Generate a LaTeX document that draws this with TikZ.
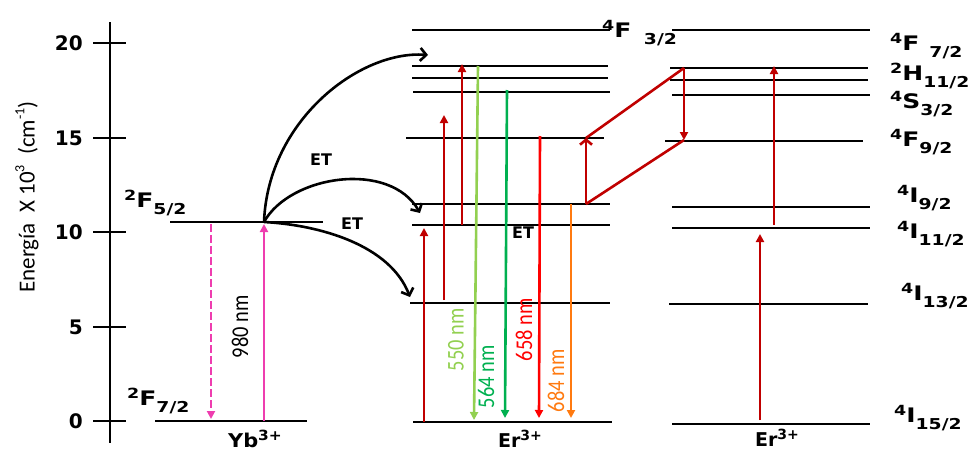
\documentclass[tikz,border=0pt]{standalone}
\usepackage{fontspec}
\setmainfont{DejaVu Sans}
\newfontfamily\calib{Carlito}
\usetikzlibrary{arrows.meta}
\definecolor{pump}{HTML}{EE3DAF}
\definecolor{ruby}{HTML}{C00000}
\definecolor{lime}{HTML}{92D050}
\definecolor{leaf}{HTML}{00B050}
\definecolor{scarlet}{HTML}{FF0000}
\definecolor{amber}{HTML}{FF7A10}
\newcommand{\up}[1]{\raisebox{.33em}{\fontsize{14}{14}\selectfont #1}}
\newcommand{\dn}[1]{\raisebox{-.38em}{\fontsize{15}{15}\selectfont #1}}
\newcommand{\trm}[3]{\scalebox{1.25}[1]{\up{#1}#2\dn{#3}}}
\newcommand{\wl}[1]{\scalebox{.85}[1]{#1}}
\tikzset{
  axis/.style ={draw=black, line width=2pt},
  lvl/.style  ={draw=black, line width=2pt},
  tick/.style ={font=\bfseries\fontsize{20}{20}\selectfont, inner sep=0pt},
  lbl/.style  ={font=\bfseries\fontsize{20}{20}\selectfont, inner sep=0pt, anchor=base west},
  ion/.style  ={font=\bfseries\fontsize{19}{19}\selectfont, inner sep=0pt, anchor=base},
  etlbl/.style={font=\bfseries\fontsize{16}{16}\selectfont, inner sep=0pt},
  nm/.style   ={font=\calib\fontsize{24}{24}\selectfont, inner sep=0pt, rotate=90},
  et/.style   ={draw=black, line width=2.6pt, -{Straight Barb[length=6pt,width=13pt,line width=2.6pt]}},
  arr/.style  ={line width=2.6pt, -{Triangle[length=8pt,width=8pt]}},
}
\begin{document}
\begin{tikzpicture}[x=1pt,y=-1pt]
  \useasboundingbox (0,0) rectangle (978,450);
  % energy axis
  \draw[axis] (110,22) -- (110,443);
  \foreach \v/\yy in {0/421,5/327,10/232,15/138,20/43} {
    \draw[axis] (93,\yy) -- (126,\yy);
    \node[tick,anchor=east] (t\v) at (83,\yy) {\v};
  }
  \node[rotate=90,inner sep=0pt,font=\calib\fontsize{23}{23}\selectfont] (ylab) at (27,197)
    {Energía\ \ X 10\raisebox{.45em}{\fontsize{14}{14}\selectfont 3}\ \ (cm\raisebox{.45em}{\fontsize{14}{14}\selectfont -1})};

  % Yb levels
  \draw[lvl] (170,222) -- (323,222);
  \draw[lvl] (155,421) -- (307,421);
  \node[lbl] (f52) at (124,207) {\trm{2}{F}{5/2}};
  \node[lbl] (f72) at (127,405) {\trm{2}{F}{7/2}};
  \node[ion] (yb) at (255,447) {\scalebox{1.1}[1]{Yb\up{3+}}};

  % Er levels, middle
  \foreach \xa/\xb/\yy in {412/610/30,412/608/66,412/608/78,413/610/92,406/604/138,
                           412/610/204,412/610/225,410/610/303,413/612/422}
    \draw[lvl] (\xa,\yy) -- (\xb,\yy);
  \node[ion] (er1) at (520,447) {Er\up{3+}};
  \node[lbl] (f32) at (602,37) {\trm{4}{F\hspace{.5em}}{3/2}};

  % Er levels, right
  \foreach \xa/\xb/\yy in {672/870/30,670/868/68,670/868/80,672/870/95,665/863/141,
                           672/870/207,672/870/228,669/868/304,672/870/424}
    \draw[lvl] (\xa,\yy) -- (\xb,\yy);
  \node[ion] (er2) at (777,446) {Er\up{3+}};
  \node[lbl] (s1) at (890,50)  {\trm{4}{F\hspace{.4em}}{7/2}};
  \node[lbl] (s2) at (890,80)  {\trm{2}{H}{11/2}};
  \node[lbl] (s3) at (890,108) {\trm{4}{S}{3/2}};
  \node[lbl] (s4) at (890,146) {\trm{4}{F}{9/2}};
  \node[lbl] (s5) at (897,202) {\trm{4}{I}{9/2}};
  \node[lbl] (s6) at (897,238) {\trm{4}{I}{11/2}};
  \node[lbl] (s7) at (901,300) {\trm{4}{I}{13/2}};
  \node[lbl] (s8) at (894,422) {\trm{4}{I}{15/2}};

  % Yb pump and decay
  \coordinate (ybg) at (264,421);
  \coordinate (ybe) at (264,222);
  \coordinate (dca) at (211,224);
  \coordinate (dcb) at (211,419);
  \draw[arr,pump] (ybg) -- (264,224);
  \draw[arr,pump,dash pattern=on 8pt off 3pt] (dca) -- (dcb);
  \node[nm] (w980) at (240,327) {\wl{980 nm}};

  % energy transfer
  \coordinate (et1) at (428,55);
  \coordinate (et2) at (420,213);
  \coordinate (et3) at (410,297);
  \draw[et] (ybe) .. controls (268,120) and (360,50) .. (et1);
  \draw[et] (ybe) .. controls (290,175) and (390,160) .. (et2);
  \draw[et] (ybe) .. controls (320,225) and (390,245) .. (et3);
  \node[etlbl] (etA) at (321,160) {ET};
  \node[etlbl] (etB) at (352,224) {ET};
  \node[etlbl] (etC) at (523,233) {ET};

  % upconversion, middle
  \draw[arr,ruby] (424,422) -- (424,228);
  \draw[arr,ruby] (444,300) -- (444,115);
  \draw[arr,ruby] (462,225) -- (462,64);
  \draw[arr,lime]    (478,66)  -- (474,420);
  \draw[arr,leaf]    (507,90)  -- (505,418);
  \draw[arr,scarlet] (540,136) -- (539,418);
  \draw[arr,amber]   (571,204) -- (571,418);
  \node[nm,lime]    (w550) at (456,340) {\wl{550 nm}};
  \node[nm,leaf]    (w564) at (486,377) {\wl{564 nm}};
  \node[nm,scarlet] (w658) at (524,330) {\wl{658 nm}};
  \node[nm,amber]   (w684) at (556,381) {\wl{684 nm}};

  % cross relaxation
  \coordinate (cra) at (586,204);
  \coordinate (crb) at (586,138);
  \coordinate (crc) at (684,68);
  \coordinate (crd) at (684,140);
  \draw[ruby,line width=2.6pt,-{Straight Barb[length=5pt,width=12pt,line width=2.6pt]}] (cra) -- (crb);
  \draw[ruby,line width=2.6pt] (crb) -- (crc);
  \draw[ruby,line width=2.6pt] (cra) -- (crd);
  \draw[arr,ruby] (crc) -- (crd);

  % upconversion, right
  \draw[arr,ruby] (760,420) -- (760,234);
  \draw[arr,ruby] (774,225) -- (774,66);
\end{tikzpicture}
\end{document}
